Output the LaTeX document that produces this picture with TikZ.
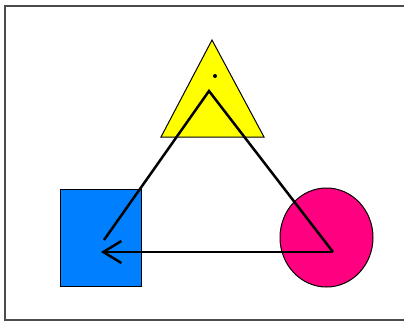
\documentclass[tikz,border=0pt]{standalone}
\usetikzlibrary{arrows.meta}
\definecolor{triyellow}{RGB}{255,255,0}
\definecolor{sqblue}{RGB}{0,128,255}
\definecolor{circmag}{RGB}{255,0,128}
\begin{document}
\begin{tikzpicture}[x=1pt,y=-1pt,
  shapeedge/.style={draw=black,line width=1pt},
  conn/.style={draw=black,line width=2.5pt,line join=miter}]
\useasboundingbox (0,0) rectangle (404,322);
\fill[white] (0,0) rectangle (404,322);
% frame
\draw[line width=1.3pt,black!70] (404,6) -- (5,6) -- (5,320) -- (404,320);
% shapes
\draw[shapeedge,fill=triyellow] (212,40) -- (264,137) -- (161,137) -- cycle;
\fill (215,76) circle (2);
\draw[shapeedge,fill=sqblue] (60,189) rectangle (141,286);
\draw[shapeedge,fill=circmag] (326.5,237.5) ellipse (46.5 and 49.5);
% named points
\coordinate (apex) at (209,91);
\coordinate (sqend) at (104,240);
\coordinate (cir) at (333,252);
\coordinate (sqtip) at (101,252);
% connectors
\draw[conn] (sqend) -- (apex) -- (cir);
\draw[conn,-{Straight Barb[length=18pt,width=22pt,line width=2.5pt]}] (cir) -- (sqtip);
\end{tikzpicture}
\end{document}
